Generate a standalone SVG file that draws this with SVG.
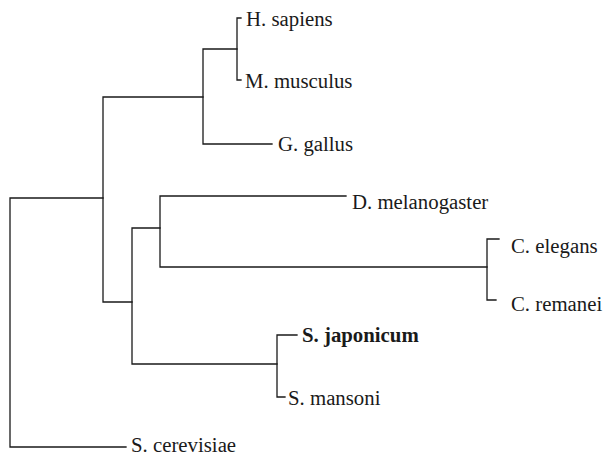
<svg xmlns="http://www.w3.org/2000/svg" width="604" height="457" viewBox="0 0 604 457">
<style>
.e{fill:none;stroke:#1a1a1a;stroke-width:1.3;stroke-linecap:square}
.t{font-family:"Liberation Serif","Times New Roman",serif;font-size:20.8px;fill:#1a1a1a}
.b{font-weight:bold}
</style>
<rect width="604" height="457" fill="#fff"/>
<g id="connectors">
<path class="e" d="M10,198V447M10,198H103M10,447H126"/>
<path class="e" d="M103,97V302M103,97H203M103,302H132"/>
<path class="e" d="M203,49V144M203,49H237M203,144H272"/>
<path class="e" d="M237,18V80M237,18H241M237,80H241"/>
<path class="e" d="M132,228V364M132,228H160M132,364H277"/>
<path class="e" d="M160,196V267M160,196H346M160,267H487"/>
<path class="e" d="M487,239V300M487,239H499M487,300H496"/>
<path class="e" d="M277,335V397M277,335H297M277,397H285"/>
</g>
<g id="h-sapiens"><text class="t" x="246" y="26">H. sapiens</text></g>
<g id="m-musculus"><text class="t" x="245" y="88">M. musculus</text></g>
<g id="g-gallus"><text class="t" x="278" y="151">G. gallus</text></g>
<g id="d-melanogaster"><text class="t" x="352" y="209">D. melanogaster</text></g>
<g id="c-elegans"><text class="t" x="511" y="253">C. elegans</text></g>
<g id="c-remanei"><text class="t" x="511" y="311">C. remanei</text></g>
<g id="s-japonicum"><text class="t b" x="302" y="342">S. japonicum</text></g>
<g id="s-mansoni"><text class="t" x="288" y="405">S. mansoni</text></g>
<g id="s-cerevisiae"><text class="t" x="131" y="452">S. cerevisiae</text></g>
</svg>
